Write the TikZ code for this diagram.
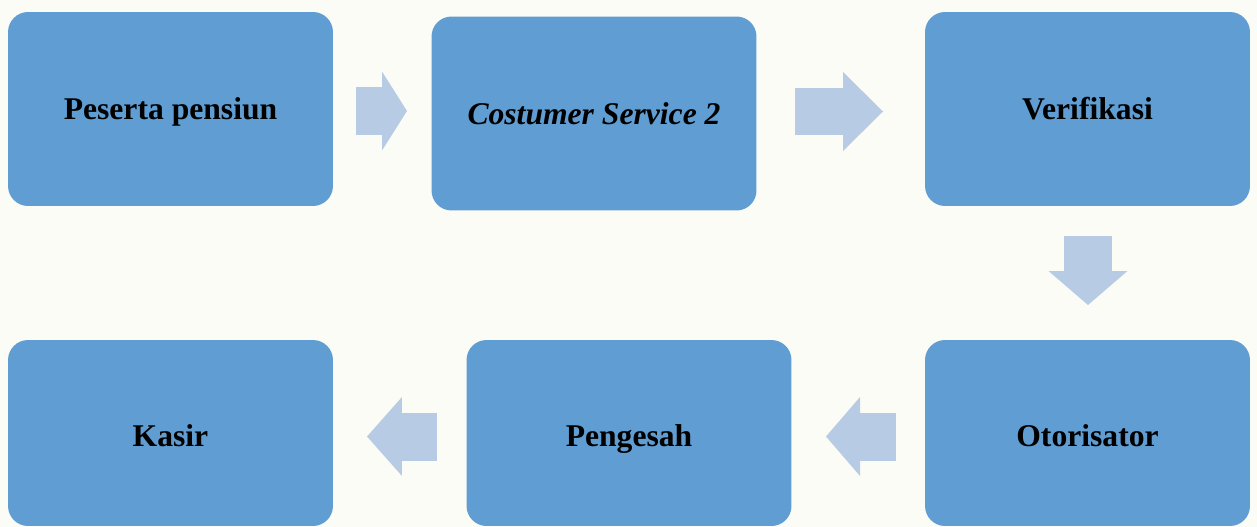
\documentclass[tikz,border=0pt]{standalone}
\usepackage{fontspec}
\setmainfont{Liberation Serif}
\usetikzlibrary{arrows.meta}
\definecolor{boxblue}{RGB}{95,157,210}
\definecolor{arrowblue}{RGB}{183,204,228}
\definecolor{paper}{RGB}{252,252,246}
\tikzset{
  stagebox/.style={rectangle, rounded corners=0.4cm, fill=boxblue, text=black,
    minimum width=6.5cm, minimum height=3.88cm, text height=0.58cm, text depth=0.14cm,
    font=\fontsize{18}{22}\selectfont\bfseries},
  lowbox/.style={stagebox, minimum height=3.72cm, text height=0.66cm},
  flowarrow/.style={draw=arrowblue, line width=0.96cm, line cap=butt},
  flowhead/.style={-{Triangle[length=#1, width=1.58cm, line width=0pt, fill=arrowblue]}}
}
\begin{document}
\begin{tikzpicture}[x=0.02cm,y=-0.02cm]
\fill[paper] (0,0) rectangle (1257,527);
\useasboundingbox (0,0) rectangle (1257,527);
%top row
\node[stagebox] (peserta) at (170.5,109) {Peserta pensiun};
\node[stagebox, text height=0.6cm] (cs) at (594,113.5) {\itshape Costumer Service 2};
\node[stagebox] (verif) at (1087.5,109) {Verifikasi};
%bottom row
\node[lowbox] (otor) at (1087.5,433) {Otorisator};
\node[lowbox] (sah) at (629,433) {Pengesah};
\node[lowbox] (kasir) at (170.5,433) {Kasir};
%arrow ends
\coordinate (a1s) at (356,111);  \coordinate (a1e) at (407,111);
\coordinate (a2s) at (795,111.5); \coordinate (a2e) at (883,111.5);
\coordinate (a3s) at (1088,236); \coordinate (a3e) at (1088,305);
\coordinate (a4s) at (896,436.5); \coordinate (a4e) at (826,436.5);
\coordinate (a5s) at (437,436.5); \coordinate (a5e) at (367,436.5);
%arrows
\draw[flowarrow, flowhead=0.5cm] (a1s) -- (a1e);
\draw[flowarrow, flowhead=0.8cm] (a2s) -- (a2e);
\draw[flowarrow, flowhead=0.68cm] (a3s) -- (a3e);
\draw[flowarrow, flowhead=0.68cm] (a4s) -- (a4e);
\draw[flowarrow, flowhead=0.7cm] (a5s) -- (a5e);
\end{tikzpicture}
\end{document}
